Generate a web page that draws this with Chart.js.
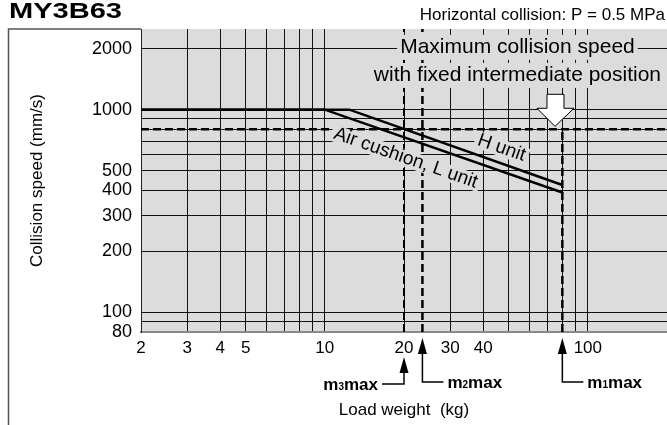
<!DOCTYPE html>
<html>
<head>
<meta charset="utf-8">
<script src="https://cdn.jsdelivr.net/npm/chart.js@4.4.0/dist/chart.umd.min.js"></script>
<style>
    html, body { margin: 0; padding: 0; background: #fff; }
    #wrap { width: 667px; height: 425px; position: relative; }
</style>
</head>
<body>
<div id="wrap"><canvas id="chart"></canvas></div>
<script>
// grid values and labelled ticks
const xGrid = [2, 3, 4, 5, 6, 7, 8, 9, 10, 20, 30, 40, 50, 60, 70, 80, 90, 100, 200];
const xLabels = [2, 3, 4, 5, 10, 20, 30, 40, 100];
const yGrid = [80, 90, 100, 200, 300, 400, 500, 600, 700, 800, 900, 1000, 2000];
const yLabels = [80, 100, 200, 300, 400, 500, 1000, 2000];

// curves (load weight kg -> collision speed mm/s)
const hUnitX = [2, 12.4, 80];
const hUnitY = [1000, 1000, 425];
const lUnitX = [2, 10, 80];
const lUnitY = [1000, 1000, 390];

// max speed with fixed intermediate position, and max loads
const fixedSpeed = 800;
const m1max = 80;
const m2max = 23.5;
const m3max = 20;

const FONT = '"Liberation Sans", Arial, sans-serif';
const PLOT_BG = '#dcdcdc';

function pts(xs, ys) {
    return xs.map((x, i) => ({ x: x, y: ys[i] }));
}

function dashed(data, width) {
    return {
        data: data,
        borderColor: '#000',
        borderWidth: width,
        borderDash: [8, 4],
        pointRadius: 0,
        fill: false
    };
}

function boxedText(ctx, text, x, y, angle, font, padX, padY) {
    ctx.save();
    ctx.translate(x, y);
    ctx.rotate(angle);
    ctx.font = font;
    const w = ctx.measureText(text).width;
    const h = parseInt(font.match(/(\d+)px/)[1]);
    ctx.fillStyle = PLOT_BG;
    ctx.fillRect(-w / 2 - padX, -h / 2 - padY, w + padX * 2, h + padY * 2);
    ctx.fillStyle = '#000';
    ctx.textAlign = 'center';
    ctx.textBaseline = 'middle';
    ctx.fillText(text, 0, 0);
    ctx.restore();
}

function massLabel(ctx, sub, x, y, align) {
    ctx.save();
    ctx.textBaseline = 'alphabetic';
    ctx.fillStyle = '#000';
    const big = 'bold 17px ' + FONT;
    const small = 'bold 10px ' + FONT;
    ctx.font = big;
    const wm = ctx.measureText('m').width;
    const wmax = ctx.measureText('max').width;
    ctx.font = small;
    const ws = ctx.measureText(sub).width;
    const total = wm + ws + wmax;
    let sx = align === 'right' ? x - total : x;
    const base = y + 6;
    ctx.textAlign = 'left';
    ctx.font = big;
    ctx.fillText('m', sx, base);
    ctx.font = small;
    ctx.fillText(sub, sx + wm, base);
    ctx.font = big;
    ctx.fillText('max', sx + wm + ws, base);
    ctx.restore();
}

function solidArrow(ctx, x, tipY, endY, hookX) {
    ctx.save();
    ctx.strokeStyle = '#000';
    ctx.fillStyle = '#000';
    ctx.lineWidth = 1.5;
    ctx.beginPath();
    ctx.moveTo(x, tipY + 10);
    ctx.lineTo(x, endY);
    ctx.lineTo(hookX, endY);
    ctx.stroke();
    ctx.beginPath();
    ctx.moveTo(x, tipY);
    ctx.lineTo(x - 4.5, tipY + 16);
    ctx.lineTo(x + 4.5, tipY + 16);
    ctx.closePath();
    ctx.fill();
    ctx.restore();
}

const decorations = {
    id: 'decorations',
    beforeDraw(chart) {
        const { ctx, chartArea: a } = chart;
        ctx.save();
        ctx.fillStyle = PLOT_BG;
        ctx.fillRect(a.left, a.top, a.right - a.left, a.bottom - a.top);
        ctx.restore();
    },
    afterDatasetDraw(chart, args) {
        // boxes go over the dashed lines but under the two curves
        if (args.index !== 2) return;
        const { ctx } = chart;
        const xs = chart.scales.x, ys = chart.scales.y;

        boxedText(ctx, 'Maximum collision speed', xs.getPixelForValue(54), ys.getPixelForValue(2030), 0, '21px ' + FONT, 3, 2);
        boxedText(ctx, 'with fixed intermediate position', xs.getPixelForValue(54), ys.getPixelForValue(1475), 0, '21px ' + FONT, 3, 2);

        const ang = Math.atan2(ys.getPixelForValue(lUnitY[2]) - ys.getPixelForValue(lUnitY[1]),
            xs.getPixelForValue(lUnitX[2]) - xs.getPixelForValue(lUnitX[1]));
        boxedText(ctx, 'Air cushion, L unit', xs.getPixelForValue(20.3), ys.getPixelForValue(577), ang, '19px ' + FONT, 3, -1);
        boxedText(ctx, 'H unit', xs.getPixelForValue(47), ys.getPixelForValue(647), ang, '19px ' + FONT, 3, -1);

        // hollow arrow pointing at the fixed-position speed line
        const tx = xs.getPixelForValue(75), ty = ys.getPixelForValue(fixedSpeed) - 3;
        ctx.save();
        ctx.beginPath();
        ctx.moveTo(tx, ty);
        ctx.lineTo(tx - 18, ty - 18);
        ctx.lineTo(tx - 8, ty - 18);
        ctx.lineTo(tx - 8, ty - 32);
        ctx.lineTo(tx + 9, ty - 32);
        ctx.lineTo(tx + 9, ty - 18);
        ctx.lineTo(tx + 19, ty - 18);
        ctx.closePath();
        ctx.fillStyle = '#fff';
        ctx.fill();
        ctx.strokeStyle = '#000';
        ctx.lineWidth = 1;
        ctx.stroke();
        ctx.restore();
    },
    afterDraw(chart) {
        const { ctx, chartArea: a } = chart;
        const xs = chart.scales.x;
        ctx.save();

        // outer frame
        ctx.strokeStyle = '#555';
        ctx.lineWidth = 1.5;
        ctx.beginPath();
        ctx.moveTo(8.5, 425);
        ctx.lineTo(8.5, a.top);
        ctx.lineTo(a.left, a.top);
        ctx.stroke();

        ctx.fillStyle = '#000';
        ctx.textBaseline = 'middle';
        ctx.textAlign = 'left';
        // the title is set wide in the original
        ctx.save();
        ctx.translate(9, 12);
        ctx.scale(1.32, 1);
        ctx.font = 'bold 22px ' + FONT;
        ctx.fillText('MY3B63', 0, 0);
        ctx.restore();

        ctx.textAlign = 'right';
        ctx.font = '17px ' + FONT;
        ctx.fillText('Horizontal collision: P = 0.5 MPa', 665, 15);

        ctx.textAlign = 'center';
        ctx.font = '17px ' + FONT;
        ctx.fillText('Load weight  (kg)', 404, 410);

        ctx.save();
        ctx.translate(37, (a.top + a.bottom) / 2);
        ctx.rotate(-Math.PI / 2);
        ctx.font = '17px ' + FONT;
        ctx.fillText('Collision speed (mm/s)', 0, 0);
        ctx.restore();

        // max load markers under the axis
        const p3 = xs.getPixelForValue(m3max);
        const p2 = xs.getPixelForValue(m2max);
        const p1 = xs.getPixelForValue(m1max);
        solidArrow(ctx, p3, a.bottom + 25, a.bottom + 52, p3 - 22);
        massLabel(ctx, '3', p3 - 26, a.bottom + 52, 'right');
        solidArrow(ctx, p2, a.bottom + 6, a.bottom + 50, p2 + 21);
        massLabel(ctx, '2', p2 + 25, a.bottom + 50, 'left');
        solidArrow(ctx, p1, a.bottom + 6, a.bottom + 50, p1 + 21);
        massLabel(ctx, '1', p1 + 25, a.bottom + 50, 'left');

        ctx.restore();
    }
};

const ctx = document.getElementById('chart').getContext('2d');
new Chart(ctx, {
    type: 'line',
    data: {
        datasets: [
            { data: pts(hUnitX, hUnitY), borderColor: '#000', borderWidth: 2.5, pointRadius: 0, fill: false },
            { data: pts(lUnitX, lUnitY), borderColor: '#000', borderWidth: 2.5, pointRadius: 0, fill: false },
            dashed(pts([2, 200], [fixedSpeed, fixedSpeed]), 2.5),
            dashed(pts([m1max, m1max], [80, fixedSpeed]), 2.5),
            dashed(pts([m2max, m2max], [80, 2500]), 2.5),
            dashed(pts([m3max, m3max], [80, 2500]), 2)
        ]
    },
    options: {
        responsive: true,
        maintainAspectRatio: false,
        animation: false,
        layout: { padding: { left: 0, top: 29, right: 0, bottom: 0 } },
        plugins: { legend: { display: false }, tooltip: { enabled: false } },
        scales: {
            x: {
                type: 'logarithmic',
                min: 2,
                max: 200,
                afterBuildTicks: (s) => { s.ticks = xGrid.map(v => ({ value: v })); },
                afterFit: (s) => { s.height = 93; s.paddingRight = 0; },
                ticks: {
                    autoSkip: false,
                    maxRotation: 0,
                    padding: 6,
                    color: '#000',
                    font: { family: FONT, size: 17 },
                    callback: (v) => xLabels.includes(v) ? String(v) : ''
                },
                grid: { color: '#111', lineWidth: 1, drawTicks: false },
                border: { color: '#888', width: 2 }
            },
            y: {
                type: 'logarithmic',
                min: 80,
                max: 2500,
                afterBuildTicks: (s) => { s.ticks = yGrid.map(v => ({ value: v })); },
                afterFit: (s) => { s.width = 141; },
                ticks: {
                    autoSkip: false,
                    padding: 9,
                    color: '#000',
                    font: { family: FONT, size: 18 },
                    callback: (v) => yLabels.includes(v) ? String(v) : ''
                },
                grid: { color: '#111', lineWidth: 1, drawTicks: false },
                border: { color: '#222', width: 1 }
            }
        }
    },
    plugins: [decorations]
});
</script>
</body>
</html>
